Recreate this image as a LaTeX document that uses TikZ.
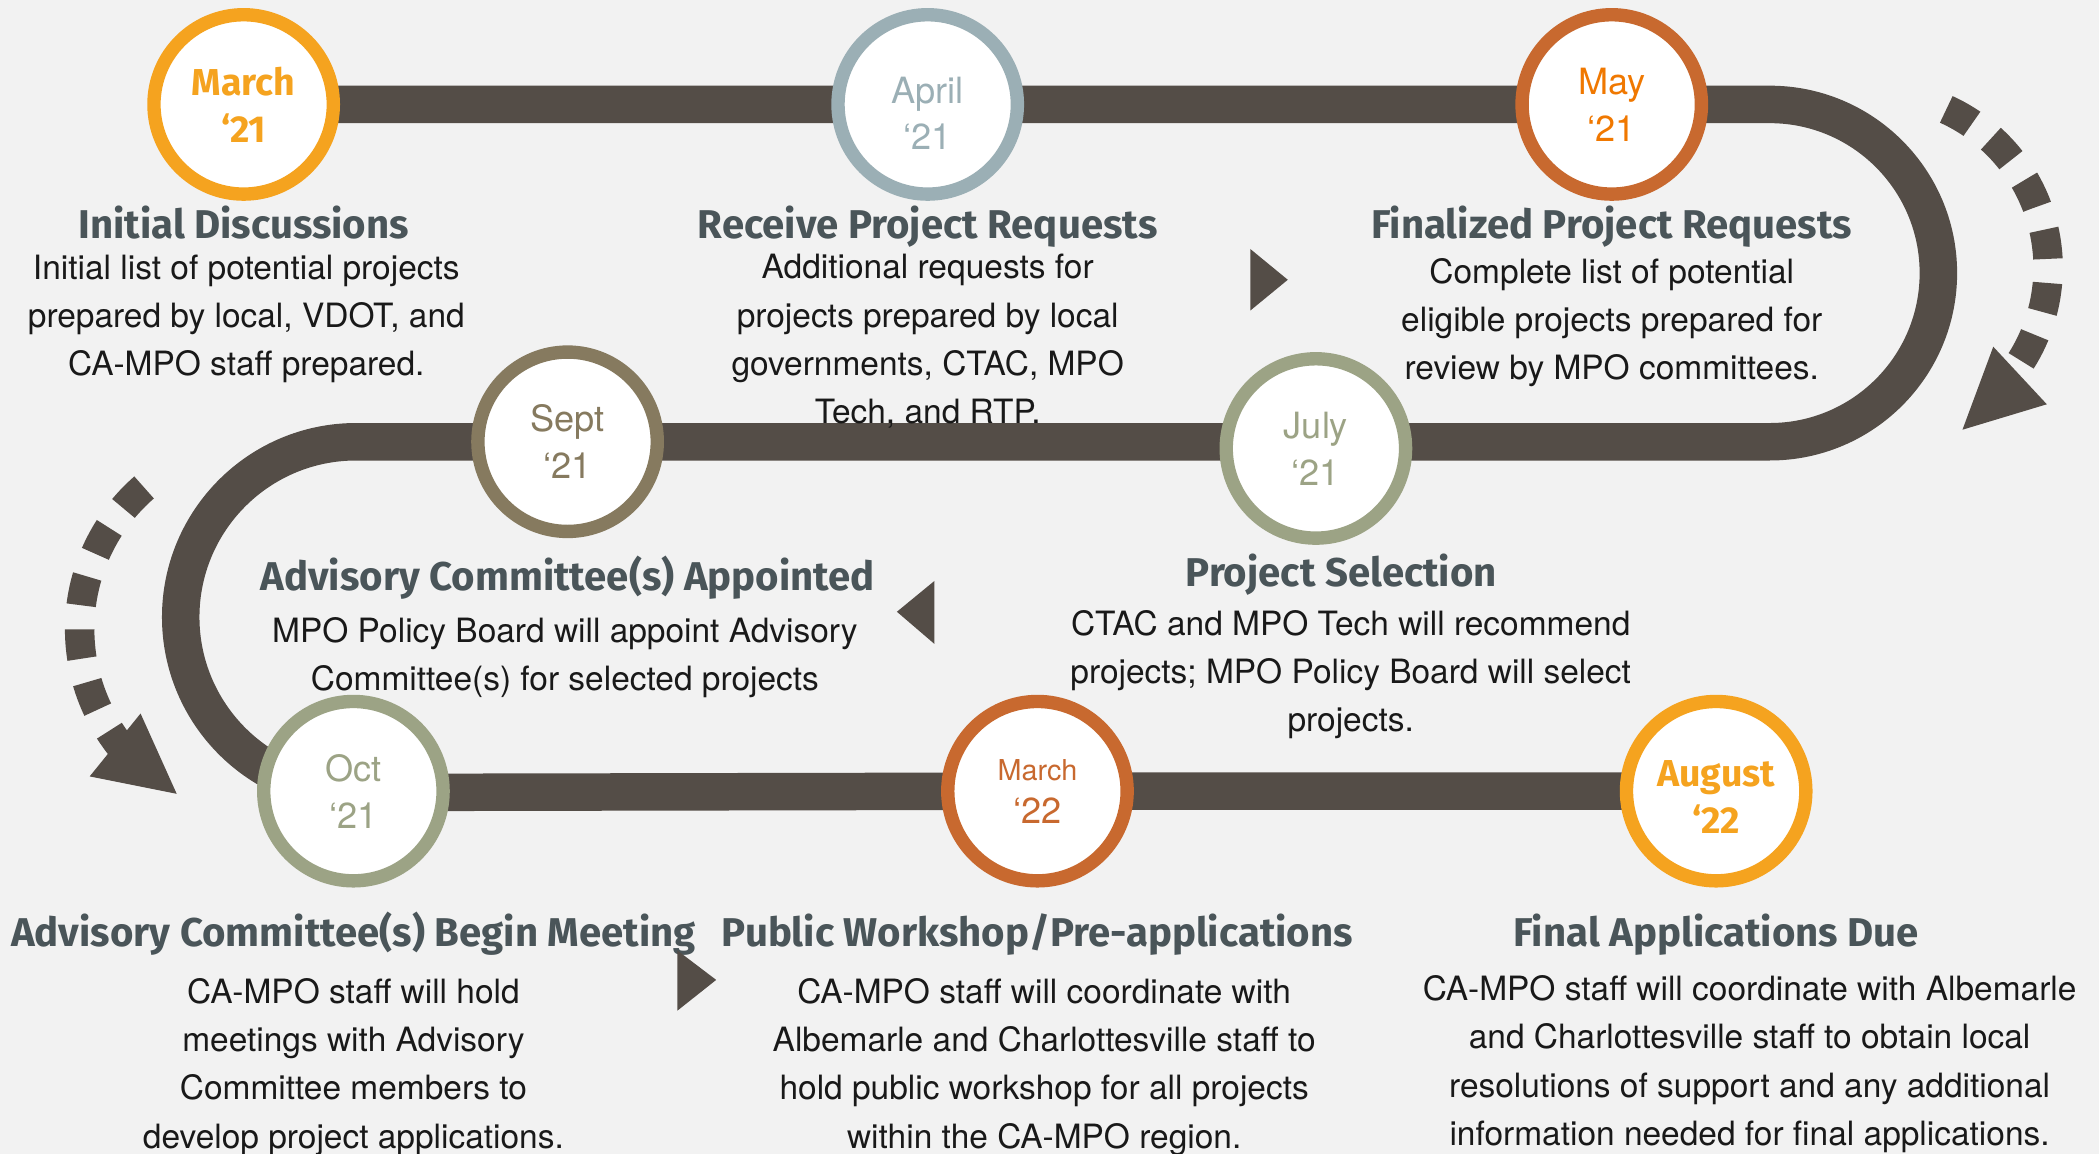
\documentclass[tikz,border=0pt]{standalone}
\usepackage{fontspec}
\setmainfont{TeX Gyre Heros}
\newfontfamily\headfont{Fira Sans}
\usetikzlibrary{positioning,backgrounds}

\definecolor{paper}{HTML}{F2F2F2}
\definecolor{trackbrown}{HTML}{544D47}
\definecolor{headgray}{HTML}{4A5559}
\definecolor{gold}{HTML}{F5A31F}
\definecolor{rust}{HTML}{C8692F}
\definecolor{flame}{HTML}{F07800}
\definecolor{steel}{HTML}{9BAFB5}
\definecolor{taupe}{HTML}{867A5F}
\definecolor{sage}{HTML}{9CA385}

\tikzstyle{month} = [circle, draw, line width=10pt, fill=white, minimum size=134pt, inner sep=0pt, align=center, font=\fontsize{27}{35}\selectfont]
\tikzstyle{boldmonth} = [month, font=\headfont\bfseries\fontsize{28}{35}\selectfont]
\tikzstyle{heading} = [inner sep=0pt, text height=20.7pt, text depth=0pt, text=headgray, font=\headfont\bfseries\fontsize{30}{36}\selectfont]
\tikzstyle{desc} = [inner sep=0pt, align=center, text=black!90, font=\fontsize{25}{36}\selectfont]
\tikzstyle{track} = [line width=28pt, draw=trackbrown]
\tikzstyle{dashturn} = [line width=22pt, draw=trackbrown, dash pattern=on 22pt off 18pt]
\tikzstyle{pointer} = [fill=trackbrown]

\begin{document}
\begin{tikzpicture}[x=1pt, y=-1pt, node distance=511pt]
\useasboundingbox (0,0) rectangle (1568,862);
\node (mar21) [boldmonth, draw=gold, text=gold] at (182,78) {March\\‘21};
\node (apr21) [month, draw=steel, text=steel, right of=mar21] {\rule{0pt}{33pt}April\\‘21};
\node (may21) [month, draw=rust, text=flame, right of=apr21] {May\\‘21};
\node (sep21) [month, draw=taupe, text=taupe] at (424,330) {Sept\\‘21};
\node (jul21) [month, draw=sage, text=sage] at (983,335) {July\\‘21};
\node (oct21) [month, draw=sage, text=sage] at (264,591) {Oct\\‘21};
\node (mar22) [month, draw=rust, text=rust, right of=oct21] {{\fontsize{21.5}{32}\selectfont March}\\[-3pt]‘22};
\node (aug22) [boldmonth, draw=gold, text=gold, right of=mar22, xshift=-4pt] {\rule{0pt}{28pt}August\\‘22};

\node (initdisc) [heading, node distance=90pt, below of=mar21] {Initial Discussions};
\node (receive) [heading, node distance=90pt, below of=apr21] {Receive Project Requests};
\node (final) [heading, node distance=90pt, below of=may21] {Finalized Project Requests};
\node (appoint) [heading, node distance=101pt, below of=sep21] {Advisory Committee(s) Appointed};
\node (select) [heading, node distance=93pt, below of=jul21, xshift=19pt] {Project Selection};
\node (meeting) [heading, node distance=106pt, below of=oct21] {Advisory Committee(s) Begin Meeting};
\node (workshop) [heading, node distance=106pt, below of=mar22] {Public Workshop/Pre-applications};
\node (due) [heading, node distance=106pt, below of=aug22] {Final Applications Due};

\node (initdesc) [desc, node distance=70pt, below of=initdisc, xshift=2pt] {Initial list of potential projects\\prepared by local, VDOT, and\\CA-MPO staff prepared.};
\node (receivedesc) [desc, node distance=87pt, below of=receive] {Additional requests for\\projects prepared by local\\governments, CTAC, MPO\\Tech, and RTP.};
\node (finaldesc) [desc, node distance=73pt, below of=final] {Complete list of potential\\eligible projects prepared for\\review by MPO committees.};
\node (appointdesc) [desc, node distance=60pt, below of=appoint, xshift=-2pt] {MPO Policy Board will appoint Advisory\\Committee(s) for selected projects};
\node (selectdesc) [desc, node distance=76pt, below of=select, xshift=7pt] {CTAC and MPO Tech will recommend\\projects; MPO Policy Board will select\\projects.};
\node (meetingdesc) [desc, node distance=100pt, below of=meeting] {CA-MPO staff will hold\\meetings with Advisory\\Committee members to\\develop project applications.};
\node (workshopdesc) [desc, node distance=100pt, below of=workshop, xshift=5pt] {CA-MPO staff will coordinate with\\Albemarle and Charlottesville staff to\\hold public workshop for all projects\\within the CA-MPO region.};
\node (duedesc) [desc, node distance=98pt, below of=due, xshift=25pt] {CA-MPO staff will coordinate with Albemarle\\and Charlottesville staff to obtain local\\resolutions of support and any additional\\information needed for final applications.};

\begin{scope}[on background layer]
\fill[paper] (0,0) rectangle (1568,862);
\draw[track] (mar21.center) -- (may21.center) -- ++(118,0) arc[start angle=-90, end angle=90, radius=126]
  -- (sep21.center) -- ++(-158,0) arc[start angle=-90, end angle=-270, radius=131]
  -- (mar22.center) -- (aug22.center);
\end{scope}

\draw[dashturn] (1400,200) ++(-65.5:130) arc[start angle=-65.5, end angle=32.4, radius=130];
\fill[pointer] (1489,259) -- (1529,302) -- (1466,321) -- cycle;
\draw[dashturn] (200,470) ++(228.9:140.5) arc[start angle=228.9, end angle=138.5, radius=140.5];
\fill[pointer] (105,533) -- (132,593) -- (67,580) -- cycle;

\fill[pointer] (934,186) -- (962,209) -- (934,232) -- cycle;
\fill[pointer] (698,434) -- (670,457) -- (698,481) -- cycle;
\fill[pointer] (506,710) -- (535,732) -- (506,755) -- cycle;
\end{tikzpicture}
\end{document}
